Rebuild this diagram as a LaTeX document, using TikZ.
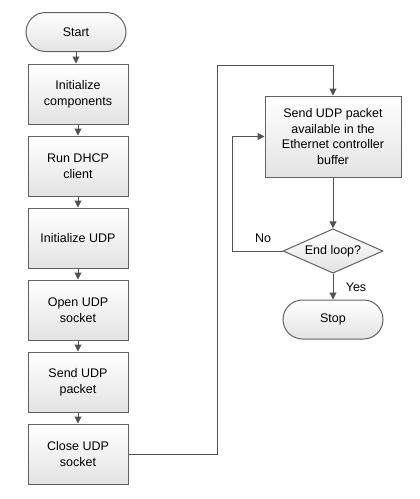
\documentclass[tikz,border=0pt]{standalone}
\usepackage{fontspec}
\setmainfont{Liberation Sans}
\usetikzlibrary{
	positioning		% relative placement
	, arrows.meta		% Triangle tips
	, shapes.geometric	% diamond
}

\begin{document}
\begin{tikzpicture}[x=1pt, y=-1pt, font=\fontsize{12.5}{15.6}\selectfont]
			\begin{scope}[
				block/.style={draw=black!62, line width=1pt, top color=white, bottom color=black!11,
					align=center, inner sep=2pt},
				process/.style={block, minimum width=100pt, minimum height=60pt},
				terminal/.style={block, rounded corners=19.5pt, minimum width=100pt, minimum height=39pt},
				decision/.style={block, diamond, shape aspect=1.72, inner sep=0pt, minimum width=100pt},
				flow/.style={draw=black!68, line width=1pt, -{Triangle[length=7pt, width=7pt]}}]

				\useasboundingbox (0, 0) rectangle (420, 499);

				%% Left column
				\node[terminal] (start) at (76, 32) {Start};
				\node[process] (init) at (78, 94) {Initialize\\components};
				\node[process] (dhcp) at (78, 166) {Run DHCP\\client};
				\node[process] (udpinit) at (78, 238) {Initialize UDP};
				\node[process] (open) at (78, 310) {Open UDP\\socket};
				\node[process] (send) at (78, 382) {Send UDP\\packet};
				\node[process] (close) at (78, 454) {Close UDP\\socket};

				%% Right column
				\node[process, minimum width=136pt, minimum height=81pt] (buffer) at (333, 136.5)
					{Send UDP packet\\available in the\\Ethernet controller\\buffer};
				\node[decision] (endloop) at (333, 251) {End loop?};
				\node[terminal] (stop) at (333, 319.5) {Stop};

				% Arrows
				\draw[flow] (start.south) -- (start.south |- init.north);
				\draw[flow] (init) -- (dhcp);
				\draw[flow] (dhcp) -- (udpinit);
				\draw[flow] (udpinit) -- (open);
				\draw[flow] (open) -- (send);
				\draw[flow] (send) -- (close);

				\coordinate (up) at (217, 65);
				\draw[flow] (close.east) -| (up) -| (buffer.north);
				\draw[flow] (buffer) -- (endloop);
				\draw[flow] (endloop.west) -- ++(-50, 0) |- (buffer.west);
				\draw[flow] (endloop) -- (stop);

				% Branch labels
				\node (no) at (263, 238) {No};
				\node (yes) at (356, 287) {Yes};
			\end{scope}
		\end{tikzpicture}
\end{document}
